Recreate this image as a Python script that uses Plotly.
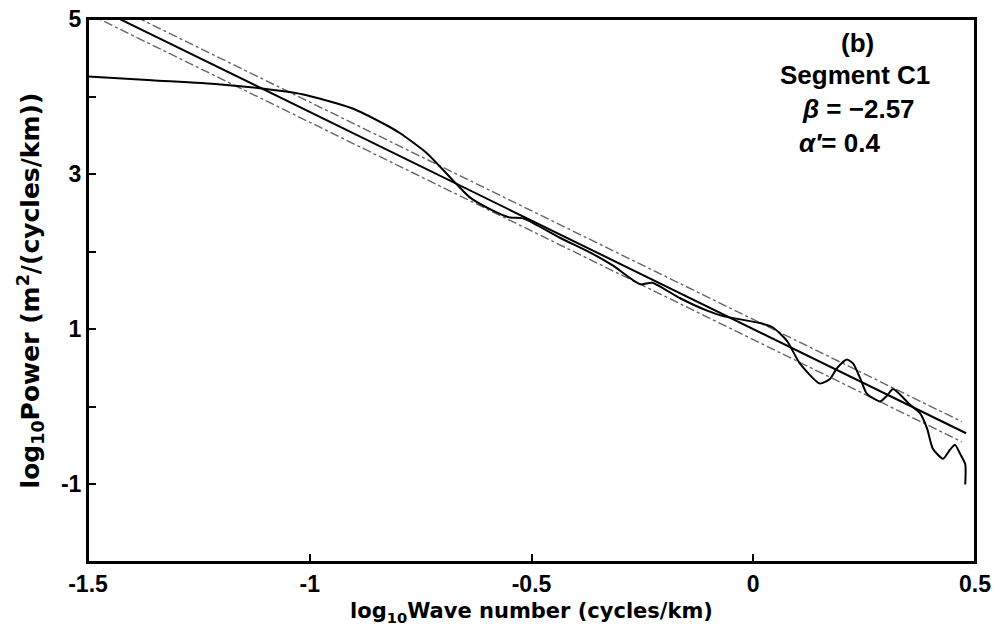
import plotly.graph_objects as go

# Spectrum curve (log10 wave number, log10 power)
spec_x = [-1.5, -1.356, -1.207, -1.117, -1.017, -0.905, -0.83, -0.797, -0.736, -0.677, -0.639,
          -0.587, -0.548, -0.519, -0.436, -0.361, -0.316, -0.255, -0.228, -0.165, -0.104, -0.068,
          0.015, 0.045, 0.076, 0.105, 0.150, 0.173, 0.189, 0.211, 0.225, 0.241, 0.256, 0.286,
          0.301, 0.315, 0.331, 0.353, 0.376, 0.392, 0.405, 0.428, 0.444, 0.455, 0.466, 0.478, 0.478]
spec_y = [4.26, 4.21, 4.16, 4.11, 4.03, 3.85, 3.64, 3.53, 3.27, 2.92, 2.70,
          2.53, 2.44, 2.43, 2.18, 1.97, 1.82, 1.58, 1.60, 1.40, 1.24, 1.17,
          1.08, 1.02, 0.85, 0.56, 0.30, 0.36, 0.50, 0.61, 0.56, 0.37, 0.17, 0.07,
          0.14, 0.23, 0.16, 0.03, -0.08, -0.28, -0.54, -0.67, -0.55, -0.49, -0.60, -0.74, -1.0]

# Fitted line and its bounds (end points)
fit_x = [-1.5, 0.48]
fit_y = [5.20, -0.34]
upper_x = [-1.5, 0.47]
upper_y = [5.33, -0.19]
lower_x = [-1.5, 0.47]
lower_y = [5.07, -0.45]

x_ticks = [-1.5, -1, -0.5, 0, 0.5]
x_labels = ["<b>-1.5</b>", "<b>-1</b>", "<b>-0.5</b>", "<b>0</b>", "<b>0.5</b>"]
y_ticks = [-1, 1, 3, 5]
y_labels = ["<b>-1</b>", "<b>1</b>", "<b>3</b>", "<b>5</b>"]

ARIAL = "Liberation Sans, Arial, sans-serif"
DEJAVU = "DejaVu Sans, sans-serif"

fig = go.Figure()
fig.add_trace(go.Scatter(x=upper_x, y=upper_y, mode="lines",
                         line=dict(color="#666666", width=1.4, dash="dashdot")))
fig.add_trace(go.Scatter(x=lower_x, y=lower_y, mode="lines",
                         line=dict(color="#666666", width=1.4, dash="dashdot")))
fig.add_trace(go.Scatter(x=fit_x, y=fit_y, mode="lines",
                         line=dict(color="black", width=2)))
fig.add_trace(go.Scatter(x=spec_x, y=spec_y, mode="lines",
                         line=dict(color="black", width=2, shape="spline", smoothing=0.6)))

axis_common = dict(showline=True, linecolor="black", linewidth=2, mirror=True,
                   ticks="inside", ticklen=8, tickwidth=1.5, tickcolor="black",
                   showgrid=False, zeroline=False, automargin=False,
                   tickfont=dict(family=ARIAL, size=23, color="black"))

fig.update_xaxes(range=[-1.5, 0.5], tickvals=x_ticks, ticktext=x_labels,
                 title=dict(text="<b>log<sub>10</sub>Wave number (cycles/km)</b>",
                            font=dict(family=DEJAVU, size=21, color="black"),
                            standoff=8),
                 **axis_common)
fig.update_yaxes(range=[-2, 5], tickvals=y_ticks, ticktext=y_labels,
                 minor=dict(tick0=0, dtick=1, ticks="inside", ticklen=8, tickwidth=1.5,
                            tickcolor="black", showgrid=False),
                 title=dict(text="<b>log<sub>10</sub>Power (m<sup>2</sup>/(cycles/km))</b>",
                            font=dict(family=DEJAVU, size=25, color="black"),
                            standoff=14),
                 **axis_common)

L, R, T, B = 88, 975, 19, 562

fig.add_shape(type="rect", xref="paper", yref="paper", x0=0, y0=0, x1=1, y1=1,
              line=dict(color="black", width=2), layer="above")

ann_font = dict(family=ARIAL, size=26, color="black")
annotations = [
    dict(px=857, py=43, text="<b>(b)</b>", anchor="center"),
    dict(px=855, py=75, text="<b>Segment C1</b>", anchor="center"),
    dict(px=858, py=109, text="<b><i>β</i> = −2.57</b>", anchor="center"),
    dict(px=797, py=143, text="<b><i>α′</i>= 0.4</b>", anchor="left"),
]
for a in annotations:
    fig.add_annotation(x=(a["px"] - L) / (R - L), y=1 - (a["py"] - T) / (B - T),
                       xref="paper", yref="paper", text=a["text"], showarrow=False,
                       xanchor=a["anchor"], yanchor="middle", font=ann_font)

fig.update_layout(width=1002, height=641, showlegend=False,
                  margin=dict(l=L, r=1002 - R, t=T, b=641 - B, autoexpand=False),
                  plot_bgcolor="white", paper_bgcolor="white")

fig.write_html("out.html", config={"displayModeBar": False},
               post_script="document.body.style.margin='0';document.body.style.overflow='hidden';")
